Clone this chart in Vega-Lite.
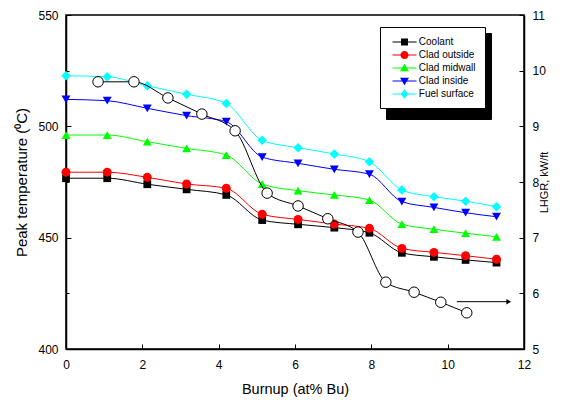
{
  "$schema": "https://vega.github.io/schema/vega-lite/v6.json",
  "width": 458,
  "height": 334,
  "autosize": {"type": "none"},
  "padding": {"left": 66, "top": 15, "right": 43, "bottom": 59},
  "background": "white",
  "config": {
    "font": "Liberation Sans",
    "view": {"stroke": "black", "strokeWidth": 1.5},
    "axis": {
      "domainColor": "black",
      "domainWidth": 1.5,
      "tickColor": "black",
      "tickWidth": 1,
      "labelColor": "black",
      "titleColor": "black",
      "grid": false,
      "labelFont": "Liberation Sans",
      "titleFont": "Liberation Sans",
      "titleFontWeight": "normal",
      "labelFontSize": 12,
      "labelFlush": false,
      "labelOverlap": false
    }
  },
  "datasets": {
    "temps": [
      {"series": "Coolant", "burnup": 0, "temp": 476.7},
      {"series": "Coolant", "burnup": 1.08, "temp": 476.7},
      {"series": "Coolant", "burnup": 2.13, "temp": 474.0},
      {"series": "Coolant", "burnup": 3.16, "temp": 471.7},
      {"series": "Coolant", "burnup": 4.2, "temp": 469.2},
      {"series": "Coolant", "burnup": 5.14, "temp": 457.9},
      {"series": "Coolant", "burnup": 6.08, "temp": 456.0},
      {"series": "Coolant", "burnup": 7.03, "temp": 454.5},
      {"series": "Coolant", "burnup": 7.95, "temp": 452.2},
      {"series": "Coolant", "burnup": 8.8, "temp": 443.2},
      {"series": "Coolant", "burnup": 9.64, "temp": 441.4},
      {"series": "Coolant", "burnup": 10.47, "temp": 440.0},
      {"series": "Coolant", "burnup": 11.28, "temp": 438.8},
      {"series": "Clad outside", "burnup": 0, "temp": 479.4},
      {"series": "Clad outside", "burnup": 1.08, "temp": 479.4},
      {"series": "Clad outside", "burnup": 2.13, "temp": 477.1},
      {"series": "Clad outside", "burnup": 3.16, "temp": 474.1},
      {"series": "Clad outside", "burnup": 4.2, "temp": 472.2},
      {"series": "Clad outside", "burnup": 5.14, "temp": 460.5},
      {"series": "Clad outside", "burnup": 6.08, "temp": 458.2},
      {"series": "Clad outside", "burnup": 7.03, "temp": 456.1},
      {"series": "Clad outside", "burnup": 7.95, "temp": 454.2},
      {"series": "Clad outside", "burnup": 8.8, "temp": 445.2},
      {"series": "Clad outside", "burnup": 9.64, "temp": 443.4},
      {"series": "Clad outside", "burnup": 10.47, "temp": 441.9},
      {"series": "Clad outside", "burnup": 11.28, "temp": 440.3},
      {"series": "Clad midwall", "burnup": 0, "temp": 496.1},
      {"series": "Clad midwall", "burnup": 1.08, "temp": 496.1},
      {"series": "Clad midwall", "burnup": 2.13, "temp": 493.1},
      {"series": "Clad midwall", "burnup": 3.16, "temp": 490.1},
      {"series": "Clad midwall", "burnup": 4.2, "temp": 487.1},
      {"series": "Clad midwall", "burnup": 5.14, "temp": 474.1},
      {"series": "Clad midwall", "burnup": 6.08, "temp": 471.1},
      {"series": "Clad midwall", "burnup": 7.03, "temp": 469.2},
      {"series": "Clad midwall", "burnup": 7.95, "temp": 466.9},
      {"series": "Clad midwall", "burnup": 8.8, "temp": 456.1},
      {"series": "Clad midwall", "burnup": 9.64, "temp": 453.8},
      {"series": "Clad midwall", "burnup": 10.47, "temp": 452.0},
      {"series": "Clad midwall", "burnup": 11.28, "temp": 450.4},
      {"series": "Clad inside", "burnup": 0, "temp": 512.1},
      {"series": "Clad inside", "burnup": 1.08, "temp": 511.5},
      {"series": "Clad inside", "burnup": 2.13, "temp": 508.1},
      {"series": "Clad inside", "burnup": 3.16, "temp": 504.8},
      {"series": "Clad inside", "burnup": 4.2, "temp": 502.1},
      {"series": "Clad inside", "burnup": 5.14, "temp": 486.2},
      {"series": "Clad inside", "burnup": 6.08, "temp": 483.4},
      {"series": "Clad inside", "burnup": 7.03, "temp": 480.7},
      {"series": "Clad inside", "burnup": 7.95, "temp": 478.5},
      {"series": "Clad inside", "burnup": 8.8, "temp": 466.2},
      {"series": "Clad inside", "burnup": 9.64, "temp": 463.6},
      {"series": "Clad inside", "burnup": 10.47, "temp": 461.2},
      {"series": "Clad inside", "burnup": 11.28, "temp": 459.4},
      {"series": "Fuel surface", "burnup": 0, "temp": 522.7},
      {"series": "Fuel surface", "burnup": 1.08, "temp": 522.3},
      {"series": "Fuel surface", "burnup": 2.13, "temp": 518.2},
      {"series": "Fuel surface", "burnup": 3.16, "temp": 514.4},
      {"series": "Fuel surface", "burnup": 4.2, "temp": 510.3},
      {"series": "Fuel surface", "burnup": 5.14, "temp": 493.7},
      {"series": "Fuel surface", "burnup": 6.08, "temp": 490.4},
      {"series": "Fuel surface", "burnup": 7.03, "temp": 487.6},
      {"series": "Fuel surface", "burnup": 7.95, "temp": 484.1},
      {"series": "Fuel surface", "burnup": 8.8, "temp": 471.4},
      {"series": "Fuel surface", "burnup": 9.64, "temp": 468.4},
      {"series": "Fuel surface", "burnup": 10.47, "temp": 466.4},
      {"series": "Fuel surface", "burnup": 11.28, "temp": 463.9}
    ],
    "lhgr": [
      {"burnup": 0.84, "lhgr": 9.80},
      {"burnup": 1.78, "lhgr": 9.80},
      {"burnup": 2.67, "lhgr": 9.51},
      {"burnup": 3.56, "lhgr": 9.22},
      {"burnup": 4.43, "lhgr": 8.92},
      {"burnup": 5.27, "lhgr": 7.80},
      {"burnup": 6.08, "lhgr": 7.57},
      {"burnup": 6.86, "lhgr": 7.34},
      {"burnup": 7.65, "lhgr": 7.10},
      {"burnup": 8.38, "lhgr": 6.20},
      {"burnup": 9.12, "lhgr": 6.02},
      {"burnup": 9.82, "lhgr": 5.84},
      {"burnup": 10.5, "lhgr": 5.65}
    ],
    "arrow": [
      {"from": 10.24, "to": 11.6, "lhgr": 5.85}
    ]
  },
  "layer": [
    {
      "data": {"name": "temps"},
      "layer": [
        {
          "transform": [{"filter": {"field": "series", "equal": "Coolant"}}],
          "mark": {"type": "line", "interpolate": "monotone", "strokeWidth": 1, "color": "#000000"},
          "encoding": {
            "x": {
              "field": "burnup", "type": "quantitative",
              "scale": {"domain": [0, 12], "nice": false, "zero": false},
              "axis": {
                "values": [0, 1, 2, 3, 4, 5, 6, 7, 8, 9, 10, 11, 12],
                "labelExpr": "datum.value % 2 === 0 ? datum.label : ''",
                "tickSize": {"condition": {"test": "datum.value % 2 === 0", "value": -5}, "value": -3},
                "labelPadding": 15,
                "title": "Burnup (at% Bu)",
                "titleFontSize": 14.5,
                "titlePadding": 12
              }
            },
            "y": {
              "field": "temp", "type": "quantitative",
              "scale": {"domain": [400, 550], "nice": false, "zero": false},
              "axis": {
                "values": [400, 425, 450, 475, 500, 525, 550],
                "labelExpr": "datum.value % 50 === 0 ? datum.label : ''",
                "tickSize": {"condition": {"test": "datum.value % 50 === 0", "value": -5}, "value": -3},
                "labelPadding": 13,
                "title": "Peak temperature (⁰C)",
                "titleFontSize": 15,
                "titlePadding": 8
              }
            }
          }
        },
        {
          "transform": [{"filter": {"field": "series", "equal": "Clad outside"}}],
          "mark": {"type": "line", "interpolate": "monotone", "strokeWidth": 1, "color": "#ff0000"},
          "encoding": {
            "x": {"field": "burnup", "type": "quantitative"},
            "y": {"field": "temp", "type": "quantitative"}
          }
        },
        {
          "transform": [{"filter": {"field": "series", "equal": "Clad midwall"}}],
          "mark": {"type": "line", "interpolate": "monotone", "strokeWidth": 1, "color": "#00ff00"},
          "encoding": {
            "x": {"field": "burnup", "type": "quantitative"},
            "y": {"field": "temp", "type": "quantitative"}
          }
        },
        {
          "transform": [{"filter": {"field": "series", "equal": "Clad inside"}}],
          "mark": {"type": "line", "interpolate": "monotone", "strokeWidth": 1, "color": "#0000ff"},
          "encoding": {
            "x": {"field": "burnup", "type": "quantitative"},
            "y": {"field": "temp", "type": "quantitative"}
          }
        },
        {
          "transform": [{"filter": {"field": "series", "equal": "Fuel surface"}}],
          "mark": {"type": "line", "interpolate": "monotone", "strokeWidth": 1, "color": "#00ffff"},
          "encoding": {
            "x": {"field": "burnup", "type": "quantitative"},
            "y": {"field": "temp", "type": "quantitative"}
          }
        },
        {
          "transform": [{"filter": {"field": "series", "equal": "Coolant"}}],
          "mark": {"type": "point", "shape": "square", "filled": true, "color": "#000000", "size": 60, "opacity": 1},
          "encoding": {
            "x": {"field": "burnup", "type": "quantitative"},
            "y": {"field": "temp", "type": "quantitative"}
          }
        },
        {
          "transform": [{"filter": {"field": "series", "equal": "Clad outside"}}],
          "mark": {"type": "point", "shape": "circle", "filled": true, "color": "#ff0000", "size": 80, "opacity": 1},
          "encoding": {
            "x": {"field": "burnup", "type": "quantitative"},
            "y": {"field": "temp", "type": "quantitative"}
          }
        },
        {
          "transform": [{"filter": {"field": "series", "equal": "Clad midwall"}}],
          "mark": {"type": "point", "shape": "triangle-up", "filled": true, "color": "#00ff00", "size": 80, "opacity": 1},
          "encoding": {
            "x": {"field": "burnup", "type": "quantitative"},
            "y": {"field": "temp", "type": "quantitative"}
          }
        },
        {
          "transform": [{"filter": {"field": "series", "equal": "Clad inside"}}],
          "mark": {"type": "point", "shape": "triangle-down", "filled": true, "color": "#0000ff", "size": 80, "opacity": 1},
          "encoding": {
            "x": {"field": "burnup", "type": "quantitative"},
            "y": {"field": "temp", "type": "quantitative"}
          }
        },
        {
          "transform": [{"filter": {"field": "series", "equal": "Fuel surface"}}],
          "mark": {"type": "point", "shape": "diamond", "filled": true, "color": "#00ffff", "size": 90, "opacity": 1},
          "encoding": {
            "x": {"field": "burnup", "type": "quantitative"},
            "y": {"field": "temp", "type": "quantitative"}
          }
        },
        {
          "transform": [{"filter": {"field": "burnup", "equal": 0}}],
          "mark": {"type": "point", "filled": true, "size": 0, "opacity": 1},
          "encoding": {
            "x": {"field": "burnup", "type": "quantitative"},
            "y": {"field": "temp", "type": "quantitative"},
            "fill": {
              "field": "series", "type": "nominal",
              "scale": {"range": ["black", "black", "black", "black", "black"]},
              "legend": {
                "title": null, "orient": "none", "legendX": 320, "legendY": 18,
                "fillColor": "black", "strokeColor": "black", "padding": 9,
                "symbolType": "square", "symbolSize": 144, "symbolStrokeWidth": 0, "symbolOffset": 9.5,
                "labelOffset": 8.3, "labelFontSize": 10, "labelColor": "black", "labelFont": "Liberation Sans",
                "rowPadding": 2, "zindex": 1
              }
            }
          }
        },
        {
          "mark": {"type": "point", "filled": true, "size": 0, "opacity": 1},
          "encoding": {
            "x": {"field": "burnup", "type": "quantitative"},
            "y": {"field": "temp", "type": "quantitative"},
            "color": {
              "field": "series", "type": "nominal",
              "scale": {
                "domain": ["Coolant", "Clad outside", "Clad midwall", "Clad inside", "Fuel surface"],
                "range": ["#000000", "#ff0000", "#00ff00", "#0000ff", "#00ffff"]
              },
              "legend": {
                "title": null, "orient": "none", "legendX": 314, "legendY": 12,
                "fillColor": "white", "strokeColor": "black", "padding": 9,
                "symbolSize": 144, "symbolStrokeWidth": 0, "symbolOffset": 9.5, "symbolOpacity": 1,
                "labelOffset": 8.3, "labelFontSize": 10, "labelColor": "black", "labelFont": "Liberation Sans",
                "rowPadding": 2, "zindex": 2
              }
            },
            "shape": {
              "field": "series", "type": "nominal",
              "scale": {
                "domain": ["Coolant", "Clad outside", "Clad midwall", "Clad inside", "Fuel surface"],
                "range": [
                  "M-2,-0.085H-0.4V0.085H-2Z M0.4,-0.085H2V0.085H0.4Z M-0.58,-0.58H0.58V0.58H-0.58Z",
                  "M-2,-0.085H-0.4V0.085H-2Z M0.4,-0.085H2V0.085H0.4Z M-0.68,0A0.68,0.68 0 1,1 0.68,0A0.68,0.68 0 1,1 -0.68,0Z",
                  "M-2,-0.085H-0.4V0.085H-2Z M0.4,-0.085H2V0.085H0.4Z M0,-0.7L0.75,0.55H-0.75Z",
                  "M-2,-0.085H-0.4V0.085H-2Z M0.4,-0.085H2V0.085H0.4Z M-0.75,-0.55H0.75L0,0.7Z",
                  "M-2,-0.085H-0.4V0.085H-2Z M0.4,-0.085H2V0.085H0.4Z M0,-0.78L0.62,0L0,0.78L-0.62,0Z"
                ]
              },
              "legend": {
                "title": null, "orient": "none", "legendX": 314, "legendY": 12,
                "fillColor": "white", "strokeColor": "black", "padding": 9,
                "symbolSize": 144, "symbolStrokeWidth": 0, "symbolOffset": 9.5, "symbolOpacity": 1,
                "labelOffset": 8.3, "labelFontSize": 10, "labelColor": "black", "labelFont": "Liberation Sans",
                "rowPadding": 2, "zindex": 2
              }
            }
          }
        }
      ]
    },
    {
      "layer": [
        {
          "data": {"name": "lhgr"},
          "mark": {"type": "line", "interpolate": "monotone", "color": "black", "strokeWidth": 1},
          "encoding": {
            "x": {"field": "burnup", "type": "quantitative"},
            "y": {
              "field": "lhgr", "type": "quantitative",
              "scale": {"domain": [5, 11], "nice": false, "zero": false},
              "axis": {
                "orient": "right",
                "values": [5, 5.5, 6, 6.5, 7, 7.5, 8, 8.5, 9, 9.5, 10, 10.5, 11],
                "labelExpr": "datum.value % 1 === 0 ? format(datum.value, 'd') : ''",
                "tickSize": {"condition": {"test": "datum.value % 1 === 0", "value": -5}, "value": -3},
                "labelPadding": 13,
                "title": "LHGR, kW/ft",
                "titleFontSize": 11,
                "titleAngle": 270,
                "titlePadding": 4
              }
            }
          }
        },
        {
          "data": {"name": "lhgr"},
          "mark": {"type": "point", "shape": "circle", "filled": true, "fill": "white", "stroke": "black", "strokeWidth": 1, "size": 110, "opacity": 1},
          "encoding": {
            "x": {"field": "burnup", "type": "quantitative"},
            "y": {"field": "lhgr", "type": "quantitative"}
          }
        },
        {
          "data": {"name": "arrow"},
          "mark": {"type": "rule", "color": "black", "strokeWidth": 1},
          "encoding": {
            "x": {"field": "from", "type": "quantitative"},
            "x2": {"field": "to"},
            "y": {"field": "lhgr", "type": "quantitative"}
          }
        },
        {
          "data": {"name": "arrow"},
          "mark": {"type": "point", "shape": "triangle-right", "filled": true, "color": "black", "size": 30, "opacity": 1},
          "encoding": {
            "x": {"field": "to", "type": "quantitative"},
            "y": {"field": "lhgr", "type": "quantitative"}
          }
        }
      ]
    }
  ],
  "resolve": {"scale": {"y": "independent"}}
}
